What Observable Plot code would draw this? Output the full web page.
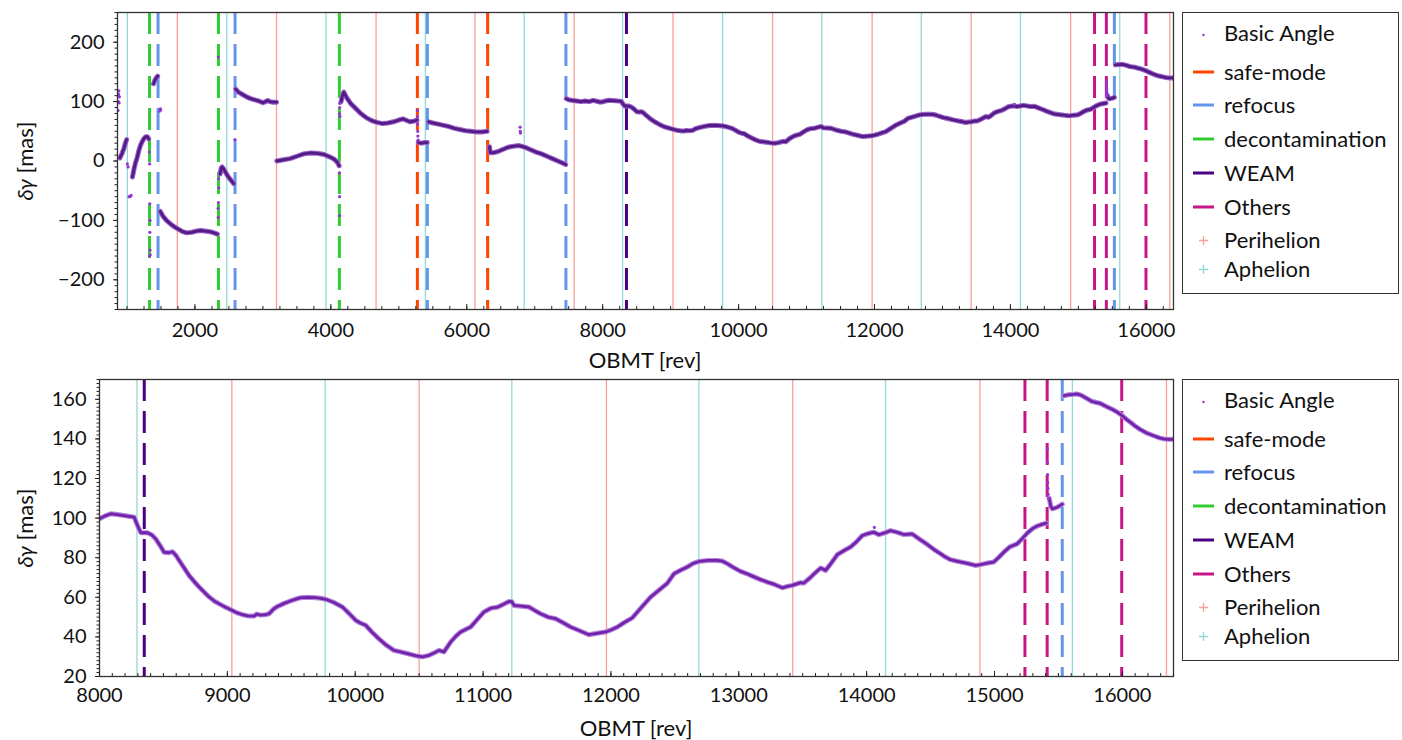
<!DOCTYPE html>
<html>
<head>
<meta charset="utf-8">
<script src="https://cdn.jsdelivr.net/npm/d3@7"></script>
<script src="https://cdn.jsdelivr.net/npm/@observablehq/plot@0.6"></script>
<style>
  body { margin: 0; background: #fff; font-family: Lato, "DejaVu Sans", sans-serif; color: #111; }
  #page { position: relative; width: 1402px; height: 740px; overflow: hidden; }
  .panel { position: absolute; left: 0; }
  .xtitle { position: absolute; font-size: 22px; transform: translate(-50%, -50%); white-space: nowrap; }
  .ytitle { position: absolute; font-size: 22px; transform: translate(-50%, -50%) rotate(-90deg); white-space: nowrap; }
  .legend { position: absolute; left: 1182px; width: 217px; height: 282px; border: 1.3px solid #333; box-sizing: border-box; background: #fff; }
  .item { position: absolute; left: 0; height: 26px; line-height: 26px; font-size: 22px; width: 100%; }
  .item .txt { position: absolute; left: 41px; top: 0; white-space: nowrap; }
  .item .sw { position: absolute; left: 10px; top: 0; width: 21px; height: 26px; }
</style>
</head>
<body>
<div id="page"></div>
<script>
// ---- Basic angle variation δγ [mas] versus on-board mission time [rev] ----
// continuous stretches of the basic-angle record, [OBMT, δγ]
const basicAngleSegments = [
  [[895,5],[910,9],[925,12],[940,17],[955,21],[970,28],[985,33],[995,36]],
  [[1080,-27],[1100,-15],[1125,-3],[1150,6],[1175,18],[1200,27],[1225,33],[1250,38],[1275,41],[1300,41],[1320,37]],
  [[1390,130],[1410,136],[1430,140],[1452,143]],
  [[1490,-85],[1530,-93],[1580,-100],[1640,-106],[1700,-111],[1760,-115],[1820,-119],[1880,-121],[1950,-120],[2020,-118],[2080,-117],[2150,-118],[2220,-119],[2280,-121],[2330,-123]],
  [[2370,-22],[2385,-12],[2400,-10],[2420,-13],[2450,-19],[2480,-25],[2520,-31],[2570,-38]],
  [[2600,121],[2640,116],[2700,112],[2760,108],[2820,105],[2880,103],[2940,101],[3000,98],[3040,100],[3070,102],[3100,100],[3150,99],[3200,99]],
  [[3205,0],[3300,2],[3400,4],[3500,8],[3600,12],[3700,13.5],[3800,13],[3900,11],[3980,7],[4050,3],[4100,-3],[4122,-8]],
  [[4150,100],[4170,110],[4190,116],[4230,107],[4290,97],[4360,89],[4440,80],[4520,73],[4600,68],[4680,65],[4760,63],[4840,64],[4920,66],[5000,69],[5060,71],[5100,69],[5160,66],[5220,67],[5268,69]],
  [[5290,31],[5330,30],[5380,31],[5418,31]],
  [[5440,66],[5500,64],[5580,62],[5660,60],[5740,58],[5820,55],[5900,53],[5980,51],[6060,50],[6140,49],[6220,49],[6300,50]],
  [[6335,24],[6345,14],[6400,14],[6460,16],[6520,19],[6580,22],[6640,24],[6700,25],[6760,26],[6800,25],[6860,23],[6940,19],[7020,15],[7100,12],[7180,8],[7260,4],[7340,0],[7400,-3],[7455,-6]],
  [[7465,105],[7500,103],[7560,102],[7620,101],[7680,100],[7740,101],[7800,100],[7860,102],[7900,101],[7960,99],[8000,99.6],[8040,101],[8088,102.2],[8140,101.8],[8192,101.3],[8240,100.8],[8271,100.5],[8297,96.3],[8323,92.6],[8375,92.6],[8410,91.5],[8440,89.5],[8475,86],[8505,82.8],[8540,82.5],[8571,83],[8600,81],[8623,78.6],[8660,75],[8701,71],[8740,68],[8779,65.2],[8820,62.5],[8857,60.2],[8900,58],[8948,56.3],[8990,54.8],[9027,53.7],[9070,52.3],[9118,51.2],[9160,50.6],[9209,50.5],[9230,51.5],[9260,51],[9300,51.2],[9326,51.7],[9360,54],[9392,55.4],[9440,56.8],[9482,57.9],[9530,59],[9574,59.8],[9630,60],[9691,59.8],[9730,59.5],[9769,59],[9830,57.5],[9900,55.1],[9950,52],[10004,48.4],[10040,47],[10082,45.9],[10130,42.5],[10186,39],[10240,36],[10303,33.2],[10350,32.5],[10408,31.6],[10470,30.5],[10525,29.9],[10577,30.7],[10620,32],[10655,33.2],[10694,32.4],[10747,37.5],[10790,40.5],[10825,42.5],[10870,44],[10903,45],[10950,48.5],[11007,52.6],[11060,54.5],[11112,55],[11160,56.5],[11203,57.9],[11225,57.8],[11242,55.9],[11300,55.5],[11359,55.1],[11400,53.5],[11450,51.7],[11510,50],[11568,49.2],[11630,47],[11685,45],[11760,43],[11828,41.1],[11890,41.8],[11958,42.5],[12000,43.5],[12050,45],[12110,47.5],[12167,49.6],[12240,55],[12310,60.1],[12389,64.3],[12440,67],[12493,71.9],[12540,73.5],[12597,75.3],[12640,77],[12688,78.1],[12760,78.6],[12832,78.6],[12870,78.3],[12910,77],[12960,75],[13014,73.1],[13060,72],[13106,70.7],[13160,69.2],[13223,67.7],[13280,66.5],[13340,64.8],[13380,65.5],[13418,66],[13483,67.4],[13509,67.2],[13560,70],[13600,72.5],[13640,74.8],[13679,73.6],[13720,77],[13770,81.5],[13820,83.5],[13874,85.4],[13920,88],[13966,91.2],[14010,92.2],[14057,92.9],[14096,91.6],[14140,92.5],[14187,93.7],[14240,92.8],[14291,91.7],[14356,92],[14410,89.5],[14474,86.7],[14530,84],[14578,82],[14620,80.2],[14656,79],[14710,78.2],[14760,77.5],[14810,76.8],[14851,76.1],[14890,76.5],[14940,77.2],[14994,77.8],[15030,80],[15073,82.8],[15120,85.5],[15178,87],[15215,89.5],[15256,92.4],[15300,94.8],[15334,96],[15370,96.8],[15407,97.5]],
  [[15428,110],[15440,106],[15452,104.7],[15470,105],[15490,105.5],[15510,106.2],[15530,107]],
  [[15545,161.8],[15580,162.3],[15620,162.5],[15646,162.7],[15680,162],[15720,160.5],[15760,159],[15790,158.5],[15829,157.9],[15870,156.5],[15920,155],[15960,153.5],[15998,151.8],[16030,150],[16063,148.4],[16100,146.5],[16141,144.7],[16190,143],[16245,141.6],[16290,140.5],[16324,140],[16360,139.8],[16397,139.8]]
];
// isolated measurements around the events
const basicAngleScatter = [
  [868,85],[872,100],[876,112],[880,118],[884,98],[888,108],[1005,-5],[1015,-10],[1030,-60],[1045,-60],[1060,-58],
  [1330,15],[1333,-5],[1335,-72],[1338,-100],[1336,-120],[1340,-150],[1342,-158],[1332,-160],
  [1480,84],[1490,88],[1495,86],[2340,-80],[2342,-95],[2345,-70],[2343,175],[2348,-30],[2350,-45],[2588,36],
  [4128,-60],[4130,-92],[4126,-20],[4127,80],[4129,90],[4131,97],[4133,75],
  [5272,85],[5274,75],[5276,62],[5278,50],[5280,42],[5285,35],[6785,57],[6787,50],[6790,47],
  [14060,95.3],[15413,135],[15414,128],[15415,122],[15416,118],[15418,115],[15420,112],[15422,110]
];

// event epochs [rev]
const safeMode = [5273, 6307];
const refocus = [1457, 2590, 5420, 7459, 15530];
const decontamination = [1331, 2346, 4125];
const weam = [8350];
const others = [15238, 15412, 15995];
const perihelion = [1740, 3200, 4665, 6120, 7580, 9035, 10500, 11965, 13422, 14886, 16345];
const aphelion = [1005, 2468, 3929, 5391, 6845, 8293, 9765, 11225, 12688, 14148, 15609];

const eventNames = ["safe-mode", "refocus", "decontamination", "WEAM", "Others"];
const eventEpochs = [safeMode, refocus, decontamination, weam, others];
const eventColors = ["#ff4500", "#6495ed", "#32cd32", "#4b0082", "#c71585"];
const perihelionColor = "#f8a096";
const aphelionColor = "#93d8d8";

// tick labels
const topXTicks = [2000, 4000, 6000, 8000, 10000, 12000, 14000, 16000];
const topYTicks = [-200, -100, 0, 100, 200];
const bottomXTicks = [8000, 9000, 10000, 11000, 12000, 13000, 14000, 15000, 16000];
const bottomYTicks = [20, 40, 60, 80, 100, 120, 140, 160];

const lineRows = basicAngleSegments.flatMap((seg, i) => seg.map(([t, v]) => ({t, v, seg: i})));
const scatterRows = basicAngleScatter.map(([t, v]) => ({t, v}));

function range(a, b, step) { return d3.range(a, b + step / 2, step); }

function panel({xDomain, yDomain, xTicks, yTicks, xMinor, yMinor, marginLeft, marginTop, marginBottom, xPad, core, halo}) {
  const eventMarks = eventEpochs.map((epochs, i) =>
    Plot.ruleX(epochs, {stroke: eventColors[i], strokeWidth: 3, strokeDasharray: "22,10", clip: true}));
  return Plot.plot({
    width: 1180, height: 370,
    marginLeft, marginRight: 7, marginTop, marginBottom,
    style: {fontFamily: "Lato, 'DejaVu Sans', sans-serif", fontSize: "20px", color: "#111", background: "transparent", overflow: "visible"},
    x: {domain: xDomain, label: null},
    y: {domain: yDomain, label: null},
    marks: [
      Plot.ruleX(perihelion, {stroke: perihelionColor, strokeWidth: 1.3, clip: true}),
      Plot.ruleX(aphelion, {stroke: aphelionColor, strokeWidth: 1.3, clip: true}),
      ...eventMarks,
      Plot.line(lineRows, {x: "t", y: "v", z: "seg", stroke: halo, strokeWidth: 5, curve: "linear", clip: true}),
      Plot.line(lineRows, {x: "t", y: "v", z: "seg", stroke: core, strokeWidth: 2.8, curve: "linear", clip: true}),
      Plot.dot(scatterRows, {x: "t", y: "v", r: 1.6, fill: "#9436d2", stroke: "none", clip: true}),
      Plot.frame({stroke: "#333", strokeWidth: 1.3}),
      // x axis: inward ticks, labels below
      Plot.axisX({ticks: xTicks, tickSize: 5, dy: -5, text: null, label: null, stroke: "#222"}),
      Plot.axisX({ticks: xMinor, tickSize: 3, dy: -3, text: null, label: null, stroke: "#222"}),
      Plot.axisX({ticks: xTicks, tickSize: 0, tickPadding: xPad, tickFormat: "d", label: null}),
      // y axis: outward ticks
      Plot.axisY({ticks: yTicks, tickSize: 4, tickPadding: 9, tickFormat: "d", label: null, stroke: "#222"}),
      Plot.axisY({ticks: yMinor, tickSize: 2.5, text: null, label: null, stroke: "#222"})
    ]
  });
}

const page = document.getElementById("page");

const topPanel = panel({
  xDomain: [860, 16400], yDomain: [-250, 250],
  xTicks: topXTicks, yTicks: topYTicks,
  xMinor: range(1000, 16250, 250), yMinor: range(-250, 250, 10),
  marginLeft: 117, marginTop: 12, marginBottom: 61, xPad: 13,
  core: "#541a86", halo: "#9a62c9"
});
topPanel.classList.add("panel"); topPanel.style.top = "0px";
page.appendChild(topPanel);

const bottomPanel = panel({
  xDomain: [8000, 16400], yDomain: [20, 170],
  xTicks: bottomXTicks, yTicks: bottomYTicks,
  xMinor: range(8000, 16400, 100), yMinor: range(20, 170, 2),
  marginLeft: 99, marginTop: 9, marginBottom: 64, xPad: 11,
  core: "#7323ab", halo: "#b487dc"
});
bottomPanel.classList.add("panel"); bottomPanel.style.top = "370px";
page.appendChild(bottomPanel);

// axis titles
function addTitle(cls, html, x, y) {
  const d = document.createElement("div");
  d.className = cls; d.innerHTML = html;
  d.style.left = x + "px"; d.style.top = y + "px";
  page.appendChild(d);
}
addTitle("xtitle", "OBMT [rev]", 645, 359);
addTitle("xtitle", "OBMT [rev]", 636, 727);
addTitle("ytitle", "<i>δγ</i> [mas]", 24, 161);
addTitle("ytitle", "<i>δγ</i> [mas]", 24, 528);

// legends
const legendOffsets = [20, 59, 92, 126, 160, 194, 227, 256];
function legend(topPx) {
  const box = document.createElement("div");
  box.className = "legend"; box.style.top = topPx + "px";
  const entries = [
    {name: "Basic Angle", kind: "dot", color: "#9b30d9"},
    ...eventNames.map((name, i) => ({name, kind: "line", color: eventColors[i]})),
    {name: "Perihelion", kind: "plus", color: perihelionColor},
    {name: "Aphelion", kind: "plus", color: aphelionColor}
  ];
  entries.forEach((e, i) => {
    const it = document.createElement("div");
    it.className = "item"; it.style.top = (legendOffsets[i] - 13) + "px";
    let sw;
    if (e.kind === "dot") sw = `<svg class="sw" width="21" height="26"><circle cx="10.5" cy="15" r="1.2" fill="${e.color}"/></svg>`;
    else if (e.kind === "line") sw = `<svg class="sw" width="21" height="26"><line x1="0" x2="21" y1="13" y2="13" stroke="${e.color}" stroke-width="3"/></svg>`;
    else sw = `<svg class="sw" width="21" height="26"><path d="M10.5,9V18M6,13.5H15" stroke="${e.color}" stroke-width="1.3"/></svg>`;
    it.innerHTML = sw + `<span class="txt">${e.name}</span>`;
    box.appendChild(it);
  });
  page.appendChild(box);
}
legend(12);
legend(379);
</script>
</body>
</html>
